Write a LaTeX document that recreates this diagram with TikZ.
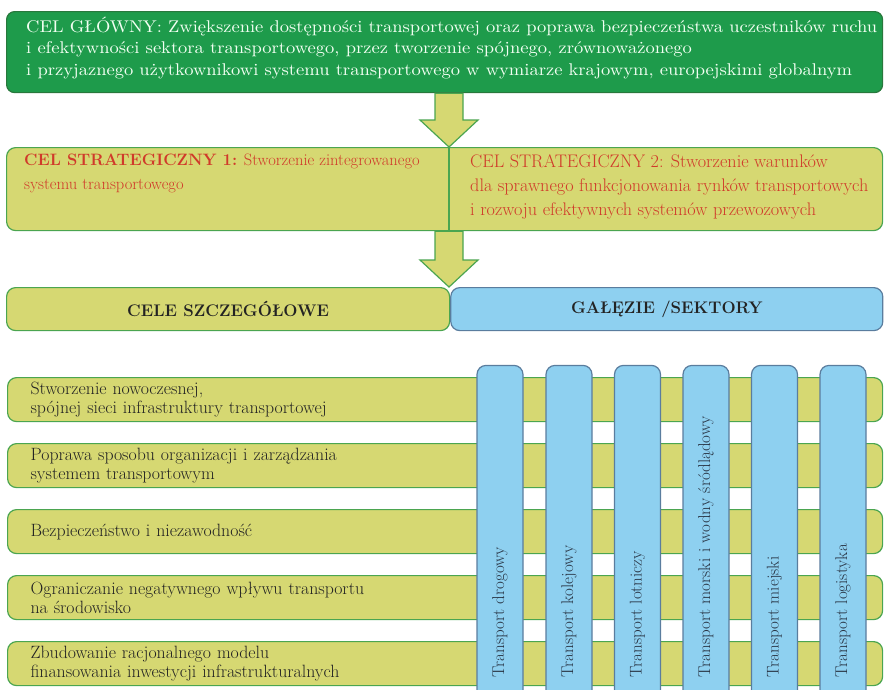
\documentclass[tikz,border=0pt]{standalone}
\usepackage{fontspec}
\newfontfamily\widefont{lmroman10-regular}[Extension=.otf, FakeStretch=1.09]
\usetikzlibrary{calc,positioning}
\definecolor{celgreen}{RGB}{30,155,75}
\definecolor{celgreendark}{RGB}{40,120,60}
\definecolor{celyellow}{RGB}{214,216,114}
\definecolor{celborder}{RGB}{75,165,80}
\definecolor{celblue}{RGB}{142,208,240}
\definecolor{celbluedark}{RGB}{90,125,158}
\definecolor{celred}{RGB}{208,58,42}
\definecolor{celtext}{RGB}{35,35,35}
\definecolor{celbartext}{RGB}{40,52,68}
\tikzset{
    % boxes
    main box/.style={
        draw=celgreendark,
        fill=celgreen,
        line width=1.2pt,
        rectangle,
        rounded corners=8pt
    },
    main text/.style={
        text=green!5,
        align=left,
        inner sep=0pt,
        font=\widefont\fontsize{17}{21.5}\selectfont
    },
    goal box/.style={
        draw=celborder,
        fill=celyellow,
        line width=1.2pt,
        rectangle,
        rounded corners=9pt
    },
    sector box/.style={
        draw=celbluedark,
        fill=celblue,
        line width=1.2pt,
        rectangle,
        rounded corners=9pt
    },
    red text/.style={
        text=celred,
        align=left,
        inner sep=0pt,
        font=\fontsize{17.5}{24}\selectfont
    },
    head text/.style={
        text=celtext,
        font=\bfseries\fontsize{16.8}{18}\selectfont
    },
    row text/.style={
        text=celtext,
        align=left,
        font=\fontsize{17.8}{19}\selectfont
    },
    bar text/.style={
        text=celbartext,
        align=left,
        font=\fontsize{17}{18}\selectfont
    },
    % block arrows
    big arrow/.style={
        draw=celborder,
        fill=celyellow,
        line width=1.2pt
    }
}
\newcommand{\blockarrow}[2]{%
    \draw[big arrow] ($(#1 -| mid)+(-14,0)$) -- ++(28,0)
        -- ($(#2 -| mid)+(14,-27)$) -- ++(15,0) -- (#2 -| mid)
        -- ++(-29,-27) -- ++(15,0) -- cycle;}

\begin{document}
\begin{tikzpicture}[x=1pt,y=-1pt]
    \useasboundingbox (0,0) rectangle (887,689);
    \coordinate (mid) at (449,0);

    % main goal
    \node[main box, anchor=north west, minimum width=876, minimum height=81] (glowny) at (6,11) {};
    \node[main text, anchor=west] (glownytxt) at (26,48)
        {CEL GŁÓWNY: Zwiększenie dostępności transportowej oraz poprawa bezpieczeństwa uczestników ruchu\\
         i efektywności sektora transportowego, przez tworzenie spójnego, zrównoważonego\\
         i przyjaznego użytkownikowi systemu transportowego w wymiarze krajowym, europejskimi globalnym};

    % strategic goals
    \node[goal box, anchor=north west, minimum width=876, minimum height=83] (strat) at (6,147) {};
    \draw[celborder, line width=1.2pt] (strat.north -| mid) -- (strat.south -| mid);
    \node[red text, anchor=north west, font=\fontsize{16.5}{24}\selectfont] (strat1) at (24,154)
        {\textbf{CEL STRATEGICZNY 1:} Stworzenie zintegrowanego\\systemu transportowego};
    \node[red text, anchor=north west, font=\fontsize{18.2}{24}\selectfont] (strat2) at (470,154)
        {CEL STRATEGICZNY 2: Stworzenie warunków\\
         dla sprawnego funkcjonowania rynków transportowych\\
         i rozwoju efektywnych systemów przewozowych};

    % headers
    \node[goal box, head text, anchor=north west, minimum width=443, minimum height=43] (cele) at (6,287)
        {CELE SZCZEGÓŁOWE};
    \node[sector box, head text, anchor=north west, minimum width=432, minimum height=43] (galezie) at (cele.north east)
        {GAŁĘZIE /SEKTORY};

    % detailed goals
    \foreach \i/\y/\txt in {
        1/377/{Stworzenie nowoczesnej,\\spójnej sieci infrastruktury transportowej},
        2/443/{Poprawa sposobu organizacji i zarządzania\\systemem transportowym},
        3/509/{Bezpieczeństwo i niezawodność},
        4/575/{Ograniczanie negatywnego wpływu transportu\\na środowisko},
        5/641/{Zbudowanie racjonalnego modelu\\finansowania inwestycji infrastrukturalnych}}
        \node[goal box, row text, anchor=north west, minimum width=875, minimum height=44,
              text width=829, inner xsep=23] (cel\i) at (7,\y) {\txt};

    % sectors
    \foreach \i/\x/\txt in {
        1/500/Transport drogowy,
        2/569/Transport kolejowy,
        3/637.5/Transport lotniczy,
        4/706/Transport morski i wodny śródlądowy,
        5/774.5/Transport miejski,
        6/843/Transport logistyka}
        \node[sector box, bar text, rotate=90, anchor=west, minimum width=334, minimum height=46,
              text width=290, inner xsep=22] (sektor\i) at (\x,700) {\txt};

    % arrows
    \blockarrow{glowny.south}{strat.north}
    \blockarrow{strat.south}{cele.north east}
\end{tikzpicture}
\end{document}
